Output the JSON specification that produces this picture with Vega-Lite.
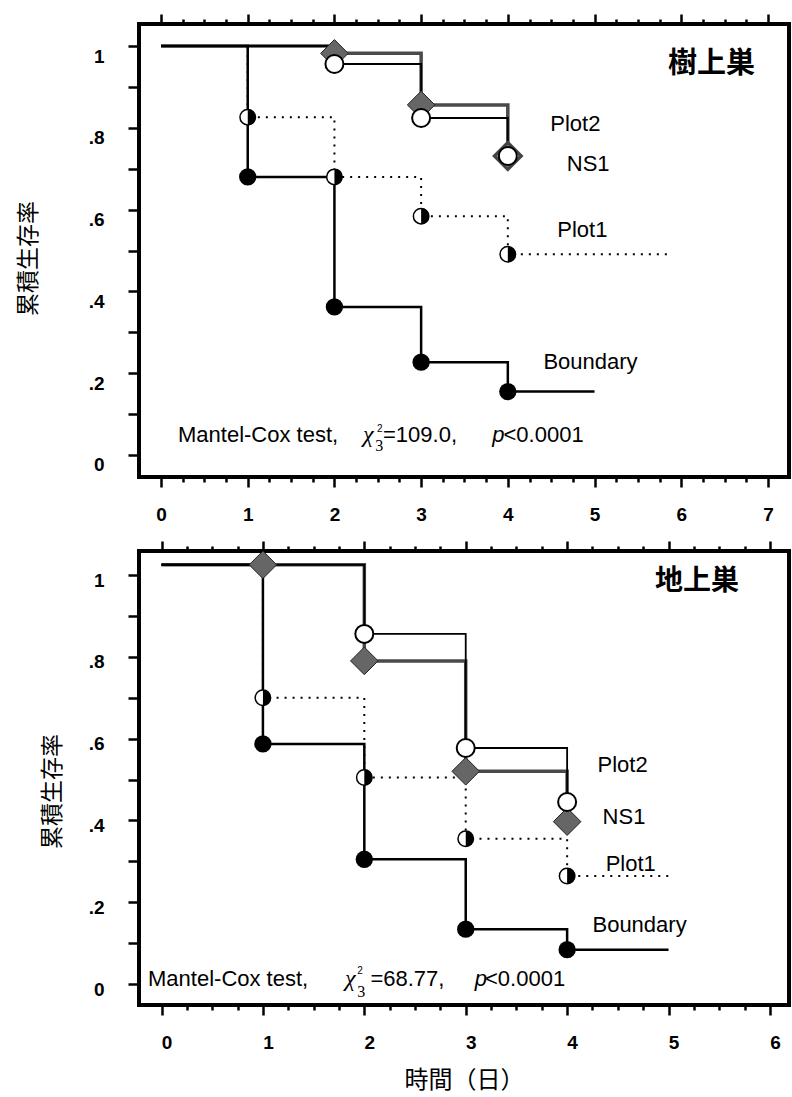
{
  "$schema": "https://vega.github.io/schema/vega-lite/v6.json",
  "background": "white",
  "padding": {"left": 15, "top": 10, "right": 2, "bottom": 1},
  "spacing": 11,
  "config": {
    "view": {"stroke": "black", "strokeWidth": 4},
    "axis": {"domain": false, "grid": false, "ticks": true, "tickColor": "black", "tickWidth": 2.5, "labelColor": "black", "labelFont": "Liberation Sans", "labelFontSize": 19, "labelFontWeight": "bold", "labelOverlap": false, "titleColor": "black", "titleFontWeight": "normal"}
  },
  "datasets": {
    "km": [
      {"panel": "樹上巣", "series": "Boundary", "x": 0, "y": 1, "pt": false},
      {"panel": "樹上巣", "series": "Boundary", "x": 1, "y": 0.68, "pt": true},
      {"panel": "樹上巣", "series": "Boundary", "x": 2, "y": 0.362, "pt": true},
      {"panel": "樹上巣", "series": "Boundary", "x": 3, "y": 0.227, "pt": true},
      {"panel": "樹上巣", "series": "Boundary", "x": 4, "y": 0.155, "pt": true},
      {"panel": "樹上巣", "series": "Boundary", "x": 5, "y": 0.155, "pt": false},
      {"panel": "樹上巣", "series": "Plot1", "x": 0, "y": 1, "pt": false},
      {"panel": "樹上巣", "series": "Plot1", "x": 1, "y": 0.826, "pt": true},
      {"panel": "樹上巣", "series": "Plot1", "x": 2, "y": 0.68, "pt": true},
      {"panel": "樹上巣", "series": "Plot1", "x": 3, "y": 0.584, "pt": true},
      {"panel": "樹上巣", "series": "Plot1", "x": 4, "y": 0.491, "pt": true},
      {"panel": "樹上巣", "series": "Plot1", "x": 5.9, "y": 0.491, "pt": false},
      {"panel": "樹上巣", "series": "NS1", "x": 0, "y": 1, "pt": false},
      {"panel": "樹上巣", "series": "NS1", "x": 2, "y": 0.982, "pt": true},
      {"panel": "樹上巣", "series": "NS1", "x": 3, "y": 0.856, "pt": true},
      {"panel": "樹上巣", "series": "NS1", "x": 4, "y": 0.731, "pt": true},
      {"panel": "樹上巣", "series": "Plot2", "x": 0, "y": 1, "pt": false},
      {"panel": "樹上巣", "series": "Plot2", "x": 2, "y": 0.956, "pt": true},
      {"panel": "樹上巣", "series": "Plot2", "x": 3, "y": 0.824, "pt": true},
      {"panel": "樹上巣", "series": "Plot2", "x": 4, "y": 0.731, "pt": true},
      {"panel": "地上巣", "series": "Boundary", "x": 0, "y": 1.025, "pt": false},
      {"panel": "地上巣", "series": "Boundary", "x": 1, "y": 0.587, "pt": true},
      {"panel": "地上巣", "series": "Boundary", "x": 2, "y": 0.305, "pt": true},
      {"panel": "地上巣", "series": "Boundary", "x": 3, "y": 0.134, "pt": true},
      {"panel": "地上巣", "series": "Boundary", "x": 4, "y": 0.084, "pt": true},
      {"panel": "地上巣", "series": "Boundary", "x": 5, "y": 0.084, "pt": false},
      {"panel": "地上巣", "series": "Plot1", "x": 0, "y": 1.025, "pt": false},
      {"panel": "地上巣", "series": "Plot1", "x": 1, "y": 0.7, "pt": true},
      {"panel": "地上巣", "series": "Plot1", "x": 2, "y": 0.505, "pt": true},
      {"panel": "地上巣", "series": "Plot1", "x": 3, "y": 0.355, "pt": true},
      {"panel": "地上巣", "series": "Plot1", "x": 4, "y": 0.264, "pt": true},
      {"panel": "地上巣", "series": "Plot1", "x": 5, "y": 0.264, "pt": false},
      {"panel": "地上巣", "series": "NS1", "x": 0, "y": 1.025, "pt": false},
      {"panel": "地上巣", "series": "NS1", "x": 1, "y": 1.025, "pt": true},
      {"panel": "地上巣", "series": "NS1", "x": 2, "y": 0.79, "pt": true},
      {"panel": "地上巣", "series": "NS1", "x": 3, "y": 0.52, "pt": true},
      {"panel": "地上巣", "series": "NS1", "x": 4, "y": 0.397, "pt": true},
      {"panel": "地上巣", "series": "Plot2", "x": 0, "y": 1.025, "pt": false},
      {"panel": "地上巣", "series": "Plot2", "x": 2, "y": 0.856, "pt": true},
      {"panel": "地上巣", "series": "Plot2", "x": 3, "y": 0.577, "pt": true},
      {"panel": "地上巣", "series": "Plot2", "x": 4, "y": 0.445, "pt": true}
    ],
    "notes": [
      {"panel": "樹上巣", "role": "title", "text": "樹上巣", "x": 6.35, "y": 0.956},
      {"panel": "樹上巣", "role": "series", "text": "Plot2", "x": 4.49, "y": 0.792},
      {"panel": "樹上巣", "role": "series", "text": "NS1", "x": 4.68, "y": 0.694},
      {"panel": "樹上巣", "role": "series", "text": "Plot1", "x": 4.57, "y": 0.533},
      {"panel": "樹上巣", "role": "series", "text": "Boundary", "x": 4.41, "y": 0.21},
      {"panel": "樹上巣", "role": "stat", "text": "Mantel-Cox test,", "x": 0.196, "y": 0.032},
      {"panel": "樹上巣", "role": "chi", "text": "χ", "x": 2.33, "y": 0.032},
      {"panel": "樹上巣", "role": "sup", "text": "2", "x": 2.49, "y": 0.056},
      {"panel": "樹上巣", "role": "sub", "text": "3", "x": 2.47, "y": 0.01},
      {"panel": "樹上巣", "role": "stat", "text": "=109.0,", "x": 2.56, "y": 0.032},
      {"panel": "樹上巣", "role": "p", "text": "p", "x": 3.82, "y": 0.032},
      {"panel": "樹上巣", "role": "stat", "text": "<0.0001", "x": 3.95, "y": 0.032},
      {"panel": "地上巣", "role": "title", "text": "地上巣", "x": 5.28, "y": 0.984},
      {"panel": "地上巣", "role": "series", "text": "Plot2", "x": 4.3, "y": 0.518},
      {"panel": "地上巣", "role": "series", "text": "NS1", "x": 4.35, "y": 0.391},
      {"panel": "地上巣", "role": "series", "text": "Plot1", "x": 4.38, "y": 0.276},
      {"panel": "地上巣", "role": "series", "text": "Boundary", "x": 4.25, "y": 0.127},
      {"panel": "地上巣", "role": "stat", "text": "Mantel-Cox test,", "x": -0.133, "y": -0.005},
      {"panel": "地上巣", "role": "chi", "text": "χ", "x": 1.81, "y": -0.005},
      {"panel": "地上巣", "role": "sup", "text": "2", "x": 1.93, "y": 0.024},
      {"panel": "地上巣", "role": "sub", "text": "3", "x": 1.93, "y": -0.032},
      {"panel": "地上巣", "role": "stat", "text": "=68.77,", "x": 2.06, "y": -0.005},
      {"panel": "地上巣", "role": "p", "text": "p", "x": 3.09, "y": -0.005},
      {"panel": "地上巣", "role": "stat", "text": "<0.0001", "x": 3.19, "y": -0.005}
    ]
  },
  "vconcat": [
    {
      "width": 650,
      "height": 453,
      "encoding": {
        "x": {"field": "x", "type": "quantitative", "scale": {"domain": [-0.254, 7.243]}, "axis": null},
        "y": {"field": "y", "type": "quantitative", "scale": {"domain": [-0.0538, 1.0538]},
          "axis": {"orient": "left", "values": [0, 0.1, 0.2, 0.3, 0.4, 0.5, 0.6, 0.7, 0.8, 0.9, 1],
            "labelExpr": "round(datum.value*10) % 2 == 0 ? (datum.value == 0 ? '0' : datum.value == 1 ? '1' : replace(format(datum.value, '.1f'), '0.', '.')) : ''",
            "tickSize": 11, "labelPadding": 24, "labelOffset": 10,
            "title": "累積生存率", "titleFont": "Noto Sans CJK JP", "titleFontSize": 23, "titlePadding": 48, "titleY": 234}}
      },
      "resolve": {"axis": {"x": "independent"}},
      "layer": [
        {"data": {"name": "km"}, "transform": [{"filter": "datum.panel == '樹上巣' && datum.series == 'NS1'"}],
          "mark": {"type": "line", "interpolate": "step-after", "color": "#4a4a4a", "strokeWidth": 3.5},
          "encoding": {"x": {"field": "x", "type": "quantitative", "scale": {"domain": [-0.254, 7.243]},
            "axis": {"orient": "bottom", "values": [0, 0.25, 0.5, 0.75, 1, 1.25, 1.5, 1.75, 2, 2.25, 2.5, 2.75, 3, 3.25, 3.5, 3.75, 4, 4.25, 4.5, 4.75, 5, 5.25, 5.5, 5.75, 6, 6.25, 6.5, 6.75, 7],
              "labelExpr": "datum.value % 1 == 0 ? format(datum.value, 'd') : ''",
              "tickSize": {"condition": {"test": "datum.value % 1 == 0", "value": 10}, "value": 5},
              "labelPadding": 18, "title": null}}}},
        {"data": {"name": "km"}, "transform": [{"filter": "datum.panel == '樹上巣' && datum.series == 'Plot1'"}],
          "mark": {"type": "line", "interpolate": "step-after", "color": "black", "strokeWidth": 2, "strokeDash": [2, 6]},
          "encoding": {"x": {"field": "x", "type": "quantitative", "scale": {"domain": [-0.254, 7.243]},
            "axis": {"orient": "top", "values": [0, 0.25, 0.5, 0.75, 1, 1.25, 1.5, 1.75, 2, 2.25, 2.5, 2.75, 3, 3.25, 3.5, 3.75, 4, 4.25, 4.5, 4.75, 5, 5.25, 5.5, 5.75, 6, 6.25, 6.5, 6.75, 7],
              "labels": false,
              "tickSize": {"condition": {"test": "datum.value % 1 == 0", "value": 10}, "value": 5},
              "title": null}}}},
        {"data": {"name": "km"}, "transform": [{"filter": "datum.panel == '樹上巣' && datum.series == 'Plot2'"}],
          "mark": {"type": "line", "interpolate": "step-after", "color": "black", "strokeWidth": 1.8}},
        {"data": {"name": "km"}, "transform": [{"filter": "datum.panel == '樹上巣' && datum.series == 'Boundary'"}],
          "mark": {"type": "line", "interpolate": "step-after", "color": "black", "strokeWidth": 2.5}},
        {"data": {"name": "km"}, "transform": [{"filter": "datum.panel == '樹上巣' && datum.series == 'Boundary' && datum.pt"}],
          "mark": {"type": "point", "shape": "circle", "filled": true, "fill": "black", "strokeWidth": 0, "size": 300, "opacity": 1}},
        {"data": {"name": "km"}, "transform": [{"filter": "datum.panel == '樹上巣' && datum.series == 'Plot1' && datum.pt"}],
          "mark": {"type": "point", "shape": "circle", "filled": true, "fill": "white", "stroke": "black", "strokeWidth": 1.5, "size": 240, "opacity": 1}},
        {"data": {"name": "km"}, "transform": [{"filter": "datum.panel == '樹上巣' && datum.series == 'Plot1' && datum.pt"}],
          "mark": {"type": "point", "shape": "M0,-1A1,1,0,0,1,0,1Z", "filled": true, "fill": "black", "strokeWidth": 0, "size": 240, "opacity": 1}},
        {"data": {"name": "km"}, "transform": [{"filter": "datum.panel == '樹上巣' && datum.series == 'NS1' && datum.pt && datum.x < 4"}],
          "mark": {"type": "point", "shape": "diamond", "filled": true, "fill": "#666666", "stroke": "#222222", "strokeWidth": 1, "size": 760, "opacity": 1}},
        {"data": {"name": "km"}, "transform": [{"filter": "datum.panel == '樹上巣' && datum.series == 'NS1' && datum.x == 4"}],
          "mark": {"type": "point", "shape": "diamond", "filled": true, "fill": "white", "stroke": "#444444", "strokeWidth": 3.5, "size": 700, "opacity": 1}},
        {"data": {"name": "km"}, "transform": [{"filter": "datum.panel == '樹上巣' && datum.series == 'Plot2' && datum.pt"}],
          "mark": {"type": "point", "shape": "circle", "filled": true, "fill": "white", "stroke": "black", "strokeWidth": 2, "size": 324, "opacity": 1}},
        {"data": {"name": "notes"}, "transform": [{"filter": "datum.panel == '樹上巣' && (datum.role == 'series' || datum.role == 'stat')"}],
          "mark": {"type": "text", "align": "left", "baseline": "alphabetic", "font": "Liberation Sans", "fontSize": 22, "color": "black"},
          "encoding": {"text": {"field": "text"}}},
        {"data": {"name": "notes"}, "transform": [{"filter": "datum.panel == '樹上巣' && datum.role == 'title'"}],
          "mark": {"type": "text", "align": "center", "baseline": "middle", "font": "Noto Sans CJK JP", "fontSize": 29, "fontWeight": "bold", "color": "black"},
          "encoding": {"text": {"field": "text"}}},
        {"data": {"name": "notes"}, "transform": [{"filter": "datum.panel == '樹上巣' && datum.role == 'chi'"}],
          "mark": {"type": "text", "align": "left", "baseline": "alphabetic", "font": "Liberation Serif", "fontStyle": "italic", "fontSize": 24, "color": "black"},
          "encoding": {"text": {"field": "text"}}},
        {"data": {"name": "notes"}, "transform": [{"filter": "datum.panel == '樹上巣' && datum.role == 'sup'"}],
          "mark": {"type": "text", "align": "left", "baseline": "alphabetic", "font": "Liberation Sans", "fontSize": 10, "color": "black"},
          "encoding": {"text": {"field": "text"}}},
        {"data": {"name": "notes"}, "transform": [{"filter": "datum.panel == '樹上巣' && datum.role == 'sub'"}],
          "mark": {"type": "text", "align": "left", "baseline": "alphabetic", "font": "Liberation Serif", "fontSize": 16, "color": "black"},
          "encoding": {"text": {"field": "text"}}},
        {"data": {"name": "notes"}, "transform": [{"filter": "datum.panel == '樹上巣' && datum.role == 'p'"}],
          "mark": {"type": "text", "align": "left", "baseline": "alphabetic", "font": "Liberation Sans", "fontStyle": "italic", "fontSize": 22, "color": "black"},
          "encoding": {"text": {"field": "text"}}}
      ]
    },
    {
      "width": 650,
      "height": 454,
      "encoding": {
        "x": {"field": "x", "type": "quantitative", "scale": {"domain": [-0.222, 6.188]}, "axis": null},
        "y": {"field": "y", "type": "quantitative", "scale": {"domain": [-0.0513, 1.0587]},
          "axis": {"orient": "left", "values": [0, 0.1, 0.2, 0.3, 0.4, 0.5, 0.6, 0.7, 0.8, 0.9, 1],
            "labelExpr": "round(datum.value*10) % 2 == 0 ? (datum.value == 0 ? '0' : datum.value == 1 ? '1' : replace(format(datum.value, '.1f'), '0.', '.')) : ''",
            "tickSize": 11, "labelPadding": 24, "labelOffset": 5,
            "title": "累積生存率", "titleFont": "Noto Sans CJK JP", "titleFontSize": 23, "titlePadding": 24, "titleY": 240}}
      },
      "resolve": {"axis": {"x": "independent"}},
      "layer": [
        {"data": {"name": "km"}, "transform": [{"filter": "datum.panel == '地上巣' && datum.series == 'NS1'"}],
          "mark": {"type": "line", "interpolate": "step-after", "color": "#4a4a4a", "strokeWidth": 3.5},
          "encoding": {"x": {"field": "x", "type": "quantitative", "scale": {"domain": [-0.222, 6.188]},
            "axis": {"orient": "bottom", "values": [0, 0.25, 0.5, 0.75, 1, 1.25, 1.5, 1.75, 2, 2.25, 2.5, 2.75, 3, 3.25, 3.5, 3.75, 4, 4.25, 4.5, 4.75, 5, 5.25, 5.5, 5.75, 6],
              "labelExpr": "datum.value % 1 == 0 ? format(datum.value, 'd') : ''",
              "tickSize": {"condition": {"test": "datum.value % 1 == 0", "value": 10}, "value": 5},
              "labelPadding": 18, "labelOffset": 5,
              "title": "時間（日）", "titleFont": "Noto Sans CJK JP", "titleFontSize": 24, "titlePadding": 16}}}},
        {"data": {"name": "km"}, "transform": [{"filter": "datum.panel == '地上巣' && datum.series == 'Plot1'"}],
          "mark": {"type": "line", "interpolate": "step-after", "color": "black", "strokeWidth": 2, "strokeDash": [2, 6]},
          "encoding": {"x": {"field": "x", "type": "quantitative", "scale": {"domain": [-0.222, 6.188]},
            "axis": {"orient": "top", "values": [0, 0.25, 0.5, 0.75, 1, 1.25, 1.5, 1.75, 2, 2.25, 2.5, 2.75, 3, 3.25, 3.5, 3.75, 4, 4.25, 4.5, 4.75, 5, 5.25, 5.5, 5.75, 6],
              "labels": false,
              "tickSize": {"condition": {"test": "datum.value % 1 == 0", "value": 10}, "value": 5},
              "title": null}}}},
        {"data": {"name": "km"}, "transform": [{"filter": "datum.panel == '地上巣' && datum.series == 'Plot2'"}],
          "mark": {"type": "line", "interpolate": "step-after", "color": "black", "strokeWidth": 1.8}},
        {"data": {"name": "km"}, "transform": [{"filter": "datum.panel == '地上巣' && datum.series == 'Boundary'"}],
          "mark": {"type": "line", "interpolate": "step-after", "color": "black", "strokeWidth": 2.5}},
        {"data": {"name": "km"}, "transform": [{"filter": "datum.panel == '地上巣' && datum.series == 'Boundary' && datum.pt"}],
          "mark": {"type": "point", "shape": "circle", "filled": true, "fill": "black", "strokeWidth": 0, "size": 300, "opacity": 1}},
        {"data": {"name": "km"}, "transform": [{"filter": "datum.panel == '地上巣' && datum.series == 'Plot1' && datum.pt"}],
          "mark": {"type": "point", "shape": "circle", "filled": true, "fill": "white", "stroke": "black", "strokeWidth": 1.5, "size": 240, "opacity": 1}},
        {"data": {"name": "km"}, "transform": [{"filter": "datum.panel == '地上巣' && datum.series == 'Plot1' && datum.pt"}],
          "mark": {"type": "point", "shape": "M0,-1A1,1,0,0,1,0,1Z", "filled": true, "fill": "black", "strokeWidth": 0, "size": 240, "opacity": 1}},
        {"data": {"name": "km"}, "transform": [{"filter": "datum.panel == '地上巣' && datum.series == 'NS1' && datum.pt"}],
          "mark": {"type": "point", "shape": "diamond", "filled": true, "fill": "#666666", "stroke": "#222222", "strokeWidth": 1, "size": 760, "opacity": 1}},
        {"data": {"name": "km"}, "transform": [{"filter": "datum.panel == '地上巣' && datum.series == 'Plot2' && datum.pt"}],
          "mark": {"type": "point", "shape": "circle", "filled": true, "fill": "white", "stroke": "black", "strokeWidth": 2, "size": 324, "opacity": 1}},
        {"data": {"name": "notes"}, "transform": [{"filter": "datum.panel == '地上巣' && (datum.role == 'series' || datum.role == 'stat')"}],
          "mark": {"type": "text", "align": "left", "baseline": "alphabetic", "font": "Liberation Sans", "fontSize": 22, "color": "black"},
          "encoding": {"text": {"field": "text"}}},
        {"data": {"name": "notes"}, "transform": [{"filter": "datum.panel == '地上巣' && datum.role == 'title'"}],
          "mark": {"type": "text", "align": "center", "baseline": "middle", "font": "Noto Sans CJK JP", "fontSize": 28, "fontWeight": "bold", "color": "black"},
          "encoding": {"text": {"field": "text"}}},
        {"data": {"name": "notes"}, "transform": [{"filter": "datum.panel == '地上巣' && datum.role == 'chi'"}],
          "mark": {"type": "text", "align": "left", "baseline": "alphabetic", "font": "Liberation Serif", "fontStyle": "italic", "fontSize": 24, "color": "black"},
          "encoding": {"text": {"field": "text"}}},
        {"data": {"name": "notes"}, "transform": [{"filter": "datum.panel == '地上巣' && datum.role == 'sup'"}],
          "mark": {"type": "text", "align": "left", "baseline": "alphabetic", "font": "Liberation Sans", "fontSize": 10, "color": "black"},
          "encoding": {"text": {"field": "text"}}},
        {"data": {"name": "notes"}, "transform": [{"filter": "datum.panel == '地上巣' && datum.role == 'sub'"}],
          "mark": {"type": "text", "align": "left", "baseline": "alphabetic", "font": "Liberation Serif", "fontSize": 16, "color": "black"},
          "encoding": {"text": {"field": "text"}}},
        {"data": {"name": "notes"}, "transform": [{"filter": "datum.panel == '地上巣' && datum.role == 'p'"}],
          "mark": {"type": "text", "align": "left", "baseline": "alphabetic", "font": "Liberation Sans", "fontStyle": "italic", "fontSize": 22, "color": "black"},
          "encoding": {"text": {"field": "text"}}}
      ]
    }
  ]
}
